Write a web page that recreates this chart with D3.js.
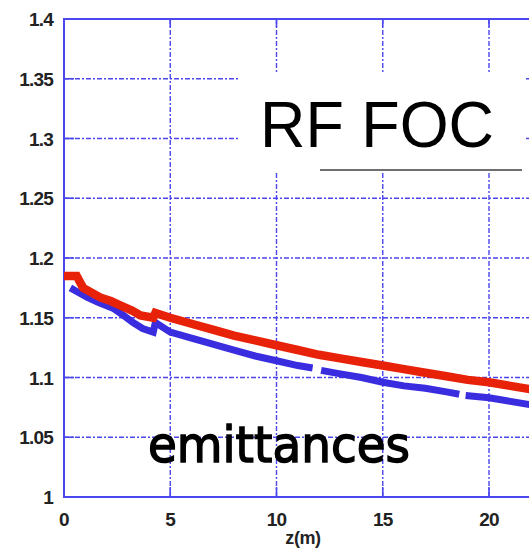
<!DOCTYPE html>
<html>
<head>
<meta charset="utf-8">
<script src="https://cdn.jsdelivr.net/npm/d3@7"></script>
<style>
    body { margin: 0; background: #fff; }
    svg { display: block; }
</style>
</head>
<body>
<div id="chart"></div>
<script>
const width = 529;
const height = 552;
const margin = {top: 19, left: 64};

// red curve (z in m, emittance)
const redZ = [0, 0.6, 0.75, 0.9, 1.3, 1.7, 2.2, 2.7, 3.2, 3.6, 4.2, 4.3, 5, 6, 7, 8, 9, 10, 11, 12, 13, 14, 15, 16, 17, 18, 19, 20, 21, 22, 23];
const redY = [1.185, 1.185, 1.180, 1.175, 1.171, 1.167, 1.164, 1.160, 1.156, 1.152, 1.150, 1.154, 1.150, 1.145, 1.140, 1.135, 1.131, 1.127, 1.123, 1.119, 1.116, 1.113, 1.110, 1.107, 1.104, 1.101, 1.098, 1.096, 1.093, 1.090, 1.087];

// blue curve, null = gap in the trace
const blueZ = [0.3, 0.6, 1.1, 1.6, 2.3, 2.8, 3.25, 3.7, 4.2, 4.3, 5, 6, 7, 8, 9, 10, 11, 11.7, 11.75, 12.1, 13, 14, 15, 16, 17, 18, 18.6, 18.65, 18.9, 20, 21, 22, 23];
const blueY = [1.175, 1.172, 1.167, 1.163, 1.158, 1.152, 1.146, 1.141, 1.138, 1.146, 1.138, 1.133, 1.128, 1.123, 1.118, 1.114, 1.110, 1.108, null, 1.106, 1.103, 1.100, 1.096, 1.093, 1.091, 1.088, 1.086, null, 1.085, 1.083, 1.080, 1.077, 1.074];

const xTicks = [0, 5, 10, 15, 20, 25];
const yTicks = [1, 1.05, 1.1, 1.15, 1.2, 1.25, 1.3, 1.35, 1.4];
const yTickLabels = ["1", "1.05", "1.1", "1.15", "1.2", "1.25", "1.3", "1.35", "1.4"];

const gridColor = "#4b46ee";

const x = d3.scaleLinear().domain([0, 25]).range([margin.left, margin.left + 25 * 21.25]);
const y = d3.scaleLinear().domain([1, 1.4]).range([497, margin.top]);

const svg = d3.select("#chart").append("svg")
    .attr("width", width)
    .attr("height", height)
    .style("font-family", "'Liberation Sans', Arial, sans-serif");

const plotW = x(25) - x(0);
const plotH = y(1) - y(1.4);

// grid lines (dash-dot)
const grid = svg.append("g");
grid.selectAll("line.h")
    .data(yTicks.slice(1, -1))
    .enter().append("line")
    .attr("x1", x(0)).attr("x2", x(25))
    .attr("y1", d => y(d)).attr("y2", d => y(d))
    .attr("stroke", gridColor).attr("stroke-width", 1.4)
    .attr("stroke-dasharray", "5,2,2,2");
grid.selectAll("line.v")
    .data(xTicks.slice(1, -1))
    .enter().append("line")
    .attr("x1", d => x(d)).attr("x2", d => x(d))
    .attr("y1", y(1.4)).attr("y2", y(1))
    .attr("stroke", gridColor).attr("stroke-width", 1.4)
    .attr("stroke-dasharray", "5,2,2,2");

// solid tick stubs on the frame
const stubs = svg.append("g").attr("stroke", gridColor).attr("stroke-width", 1.6);
xTicks.slice(1, -1).forEach(t => {
    stubs.append("line").attr("x1", x(t)).attr("x2", x(t)).attr("y1", y(1)).attr("y2", y(1) - 10);
    stubs.append("line").attr("x1", x(t)).attr("x2", x(t)).attr("y1", y(1.4)).attr("y2", y(1.4) + 8);
});
yTicks.slice(1, -1).forEach(t => {
    stubs.append("line").attr("x1", x(0)).attr("x2", x(0) + 10).attr("y1", y(t)).attr("y2", y(t));
});

// frame
svg.append("rect")
    .attr("x", x(0)).attr("y", y(1.4))
    .attr("width", plotW).attr("height", plotH)
    .attr("fill", "none")
    .attr("stroke", gridColor).attr("stroke-width", 2);

// curves
const line = d3.line()
    .defined(d => d[1] !== null)
    .x(d => x(d[0]))
    .y(d => y(d[1]));

svg.append("path")
    .datum(blueZ.map((z, i) => [z, blueY[i]]))
    .attr("d", line)
    .attr("fill", "none")
    .attr("stroke", "#3a2ddf")
    .attr("stroke-width", 7);

svg.append("path")
    .datum(redZ.map((z, i) => [z, redY[i]]))
    .attr("d", line)
    .attr("fill", "none")
    .attr("stroke", "#e82208")
    .attr("stroke-width", 8.5);

// axis labels
svg.append("g").selectAll("text")
    .data(yTicks)
    .enter().append("text")
    .attr("x", 53)
    .attr("y", d => y(d) + 7)
    .attr("text-anchor", "end")
    .attr("font-size", 19)
    .attr("font-weight", "bold")
    .attr("letter-spacing", -0.8)
    .attr("fill", "#222")
    .text((d, i) => yTickLabels[i]);

svg.append("g").selectAll("text")
    .data(xTicks.slice(0, -1))
    .enter().append("text")
    .attr("x", d => x(d))
    .attr("y", 526)
    .attr("text-anchor", "middle")
    .attr("font-size", 19)
    .attr("font-weight", "bold")
    .attr("letter-spacing", -0.8)
    .attr("fill", "#222")
    .text(d => d);

svg.append("text")
    .attr("x", 303).attr("y", 544)
    .attr("text-anchor", "middle")
    .attr("font-size", 18)
    .attr("font-weight", "bold")
    .attr("letter-spacing", -0.4)
    .attr("fill", "#222")
    .text("z(m)");

// white label box
svg.append("rect")
    .attr("x", 238).attr("y", 73)
    .attr("width", 288).attr("height", 98)
    .attr("fill", "#fff");
svg.append("line")
    .attr("x1", 320).attr("x2", 522)
    .attr("y1", 170).attr("y2", 170)
    .attr("stroke", "#6e6e6e").attr("stroke-width", 2);
svg.append("text")
    .attr("x", 260).attr("y", 147)
    .attr("font-size", 65)
    .attr("textLength", 234)
    .attr("lengthAdjust", "spacingAndGlyphs")
    .attr("fill", "#000")
    .text("RF FOC");

svg.append("text")
    .attr("x", 148).attr("y", 462)
    .attr("font-family", "'Comic Sans MS', 'DejaVu Sans', sans-serif")
    .attr("font-size", 50)
    .attr("textLength", 262)
    .attr("lengthAdjust", "spacingAndGlyphs")
    .attr("fill", "#000")
    .attr("stroke", "#000")
    .attr("stroke-width", 1.5)
    .text("emittances");
</script>
</body>
</html>
